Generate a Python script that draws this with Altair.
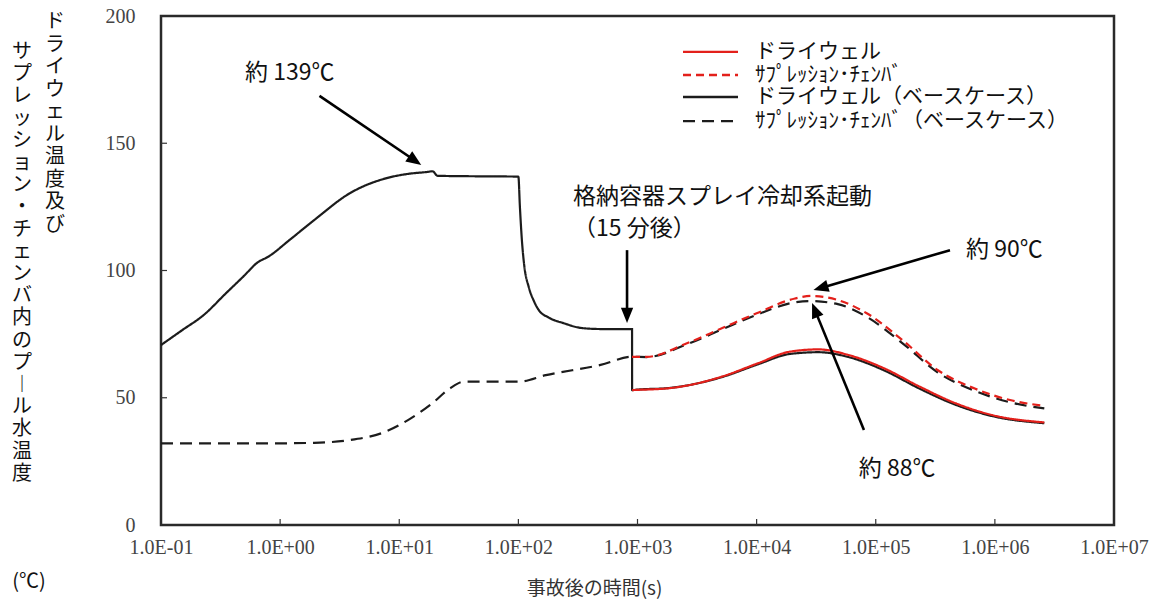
import math
import altair as alt
import pandas as pd

# ---------------- data ----------------
SERIES = ["ドライウェル", "ｻﾌﾟﾚｯｼｮﾝ･ﾁｪﾝﾊﾞ",
          "ドライウェル（ベースケース）", "ｻﾌﾟﾚｯｼｮﾝ･ﾁｪﾝﾊﾞ（ベースケース）"]

dw_base_t = [0.1, 0.15, 0.228, 0.35, 0.5, 0.64, 0.8, 1.2, 1.93, 3.86,
             7.7, 12, 17.7, 19, 21, 50, 100, 103, 107, 112,
             122, 135, 148, 180, 240, 340, 500, 870, 900, 901,
             1000, 1800, 5100, 10200, 19000, 33000, 59000, 117000, 235000, 470000,
             950000, 2600000]
dw_base_v = [70.7, 76.5, 82.5, 91, 98, 103, 105.5, 112, 119.8, 130.4,
             136.2, 138, 138.8, 139, 137.2, 137, 136.9, 125, 112, 102,
             93.6, 88, 84.5, 81.5, 79.3, 77.4, 77, 77, 77, 53,
             53.2, 53.8, 58.1, 63.1, 67.2, 67.9, 66, 60.8, 53.5, 47.2,
             42.8, 40.0]

sc_base_t = [0.1, 1, 1.93, 3.9, 7.7, 12.5, 18.9, 26.7, 35, 100, 170, 490, 900,
             1200, 2600, 5100, 10000, 21000, 28000, 48000, 84000, 167000,
             330000, 670000, 1340000, 2600000]
sc_base_v = [32.1, 32.1, 32.3, 33.4, 36.7, 41.9, 47.8, 53.7, 56.3, 56.3, 58.9, 62.9, 66.1,
             66, 71, 76.8, 82.6, 87.5, 88, 86.8, 81.8, 71.5,
             60, 52.8, 48.2, 45.8]

dw_t = [901, 1000, 1800, 5100, 10200, 19000, 33000, 59000, 117000, 235000, 470000, 950000, 2600000]
dw_v = [53, 53.1, 53.7, 58.3, 63.5, 68.1, 69, 66.8, 61.6, 54.3, 47.8, 43.2, 40.3]

sc_t = [900, 1200, 2600, 5100, 10000, 21000, 29000, 48000, 84000, 167000, 330000, 670000, 1340000, 2600000]
sc_v = [66.1, 66.1, 71.4, 77.3, 83.2, 89, 90, 88.4, 83.2, 72.7, 60.9, 53.7, 49.1, 46.8]

x_tick_vals = [0.1, 1, 10, 100, 1000, 1e4, 1e5, 1e6, 1e7]
x_tick_labels = ["1.0E-01", "1.0E+00", "1.0E+01", "1.0E+02", "1.0E+03",
                 "1.0E+04", "1.0E+05", "1.0E+06", "1.0E+07"]
y_tick_vals = [0, 50, 100, 150, 200]

# annotations (data units: seconds, deg C)
ann_text = ["約 139℃", "格納容器スプレイ冷却系起動", "（15 分後）", "約 90℃", "約 88℃"]
ann_t = [0.507, 288, 288, 5.73e5, 7.2e4]
ann_v = [177.6, 128.9, 116.3, 108, 22]

arr_tail_t = [2.14, 817, 4.2e5, 7.96e4]
arr_tail_v = [168.6, 108, 108, 37.3]
arr_tip_t = [15.3, 817, 3.0e4, 2.92e4]
arr_tip_v = [141.5, 79.4, 92.3, 87.2]

# legend rows (inside plot, data units)
leg_t1, leg_t2, leg_lab_t = 2410, 6980, 9690
leg_v = [185.9, 176.8, 168.2, 158.7]

# ---------------- layout / style ----------------
W, H = 953, 509
COLORS = ["#e3201b", "#e3201b", "#1c1c1c", "#1c1c1c"]
DASHES = [[1, 0], [8, 5], [1, 0], [12, 7]]
JP = "Noto Sans CJK JP"
NUM = "Liberation Serif"


def tx(t):
    return (math.log10(t) + 1) * W / 8


def ty(v):
    return H - v * H / 200


def inv_t(px):
    return 10 ** (px * 8 / W - 1)


def inv_v(py):
    return (H - py) * 200 / H


rows = []
for name, ts, vs in [(SERIES[2], dw_base_t, dw_base_v), (SERIES[3], sc_base_t, sc_base_v),
                     (SERIES[0], dw_t, dw_v), (SERIES[1], sc_t, sc_v)]:
    for i, (t, v) in enumerate(zip(ts, vs)):
        rows.append({"series": name, "t": t, "v": v, "idx": i,
                     "base": "ベース" in name})
curves = pd.DataFrame(rows)

xs = alt.Scale(type="log", domain=[0.1, 1e7], nice=False)
ys = alt.Scale(domain=[0, 200], nice=False)
cs = alt.Scale(domain=SERIES, range=COLORS)
ds = alt.Scale(domain=SERIES, range=DASHES)

label_expr = "[" + ",".join("'%s'" % s for s in x_tick_labels) + "][round(log(datum.value)/LN10)+1]"

x_enc = alt.X("t:Q", scale=xs, axis=alt.Axis(
    values=x_tick_vals, labelExpr=label_expr, ticks=False, tickSize=0, domain=False, grid=False,
    labelFont=NUM, labelFontSize=20, labelColor="#444", labelPadding=12,
    labelOverlap=False, labelFlush=False,
    title="事故後の時間(s)", titleFont=JP, titleFontSize=19, titleFontWeight="normal",
    titleColor="#333", titleX=433, titleY=54, titleAlign="center", titleBaseline="top"))
y_enc = alt.Y("v:Q", scale=ys, axis=alt.Axis(
    values=y_tick_vals, ticks=False, tickSize=0, domain=False, grid=False,
    labelFont=NUM, labelFontSize=20, labelColor="#444", labelPadding=26, title=None))

base_lines = alt.Chart(curves[curves["base"]]).mark_line(
    strokeWidth=2.2, interpolate="monotone").encode(
    x=x_enc, y=y_enc,
    color=alt.Color("series:N", scale=cs, legend=None),
    strokeDash=alt.StrokeDash("series:N", scale=ds, legend=None),
    detail="series:N", order="idx:Q")
red_lines = alt.Chart(curves[~curves["base"]]).mark_line(
    strokeWidth=2.2, interpolate="monotone").encode(
    x="t:Q", y="v:Q",
    color=alt.Color("series:N", scale=cs, legend=None),
    strokeDash=alt.StrokeDash("series:N", scale=ds, legend=None),
    detail="series:N", order="idx:Q")

# inward ticks
xt = pd.DataFrame({"t": x_tick_vals[1:-1]})
x_ticks = alt.Chart(xt).mark_rule(color="#333", strokeWidth=1.2).encode(
    x="t:Q", y=alt.datum(0), y2=alt.datum(6 * 200 / H))
yt = pd.DataFrame({"v": y_tick_vals[1:-1]})
y_ticks = alt.Chart(yt).mark_rule(color="#333", strokeWidth=1.2).encode(
    y="v:Q", x=alt.datum(0.1), x2=alt.datum(inv_t(6)))

# legend
leg = pd.DataFrame({"series": SERIES, "v": leg_v, "t1": [leg_t1] * 4, "t2": [leg_t2] * 4,
                    "tl": [leg_lab_t] * 4})
leg_lines = alt.Chart(leg).mark_rule(strokeWidth=2.4).encode(
    x="t1:Q", x2="t2:Q", y="v:Q",
    color=alt.Color("series:N", scale=cs, legend=None),
    strokeDash=alt.StrokeDash("series:N", scale=ds, legend=None))
leg_text = alt.Chart(leg).mark_text(align="left", baseline="middle", font=JP, fontSize=21,
                                    color="#111").encode(x="tl:Q", y="v:Q", text="series:N")

# annotation texts
ann = pd.DataFrame({"txt": ann_text, "t": ann_t, "v": ann_v})
ann_marks = alt.Chart(ann).mark_text(align="left", baseline="middle", font=JP, fontSize=23,
                                     color="#111").encode(x="t:Q", y="v:Q", text="txt:N")

# arrows
arr_rows = []
for t0, v0, t1, v1 in zip(arr_tail_t, arr_tail_v, arr_tip_t, arr_tip_v):
    x0, y0, x1, y1 = tx(t0), ty(v0), tx(t1), ty(v1)
    dx, dy = x1 - x0, y1 - y0
    L = math.hypot(dx, dy)
    ex, ey = x1 - dx / L * 6, y1 - dy / L * 6
    ang = math.degrees(math.atan2(dx, -dy)) % 360
    arr_rows.append({"t0": t0, "v0": v0, "te": inv_t(ex), "ve": inv_v(ey),
                     "t1": t1, "v1": v1, "ang": ang})
arr = pd.DataFrame(arr_rows)
arr_lines = alt.Chart(arr).mark_rule(color="#000", strokeWidth=2.6).encode(
    x="t0:Q", y="v0:Q", x2="te:Q", y2="ve:Q")
arr_heads = alt.Chart(arr).mark_point(shape="M0,0L-0.55,1.35L0.55,1.35Z", filled=True,
                                      color="#000", opacity=1, size=500).encode(
    x="t1:Q", y="v1:Q", angle=alt.Angle("ang:Q", scale=None))

# y-axis title (vertical writing) and unit
one = pd.DataFrame({"a": [0]})
col_r = "ドライウェル温度及び"
col_l = "サプレッション・チェンバ内のプ︱ル水温度"
ttl_r = alt.Chart(one).mark_text(lineBreak="\n", lineHeight=22.5, baseline="top", align="center",
                                 font=JP, fontSize=20, color="#111").encode(
    x=alt.value(-106), y=alt.value(-4), text=alt.value("\n".join(col_r)))
ttl_l = alt.Chart(one).mark_text(lineBreak="\n", lineHeight=22.2, baseline="top", align="center",
                                 font=JP, fontSize=20, color="#111").encode(
    x=alt.value(-139), y=alt.value(26), text=alt.value("\n".join(col_l)))
unit = alt.Chart(one).mark_text(baseline="middle", align="center", font=JP, fontSize=20,
                                color="#111").encode(
    x=alt.value(-132), y=alt.value(566), text=alt.value("(℃)"))

chart = alt.layer(
    base_lines, red_lines, x_ticks, y_ticks, leg_lines, leg_text,
    ann_marks, arr_lines, arr_heads, ttl_r, ttl_l, unit
).properties(
    width=W, height=H,
    autosize=alt.AutoSizeParams(type="none"),
    padding={"left": 153, "top": 8, "right": 42, "bottom": 76},
    background="white",
).configure_view(stroke="#2a2a2a", strokeWidth=2.5)

chart.save("out.html", embed_options={"renderer": "svg", "actions": False})
